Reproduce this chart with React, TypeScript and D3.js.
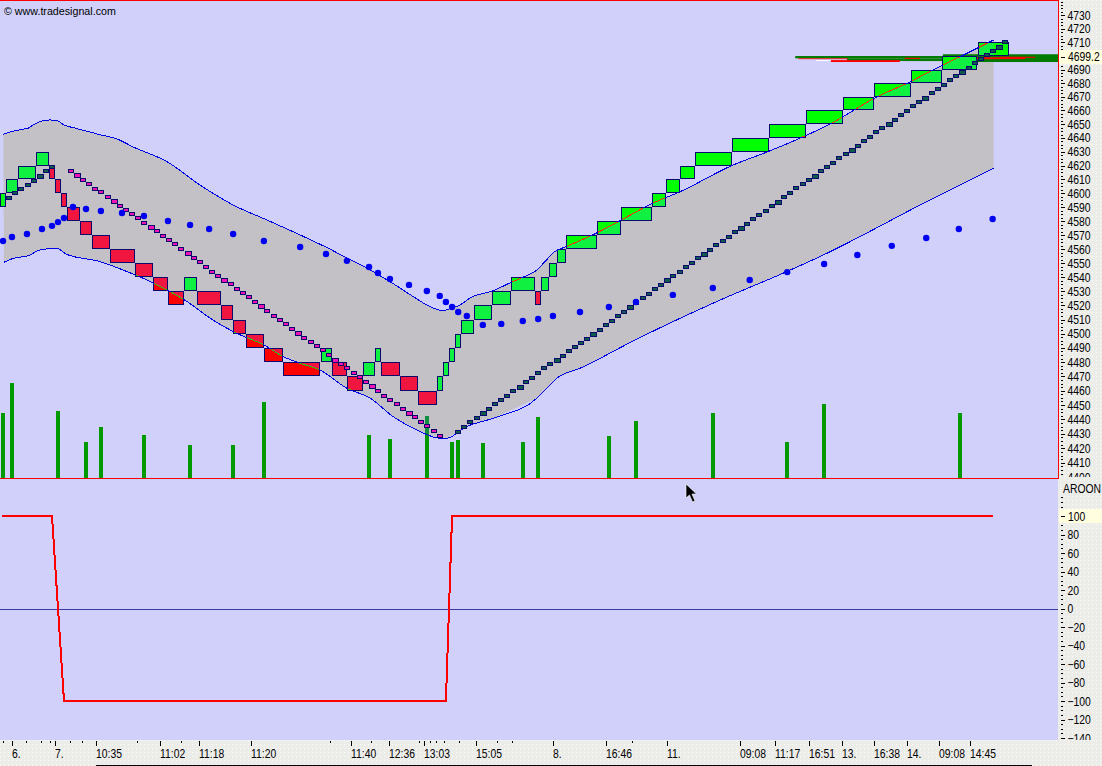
import { useRef, useEffect } from "react";
import * as d3 from "d3";

const boxEnd = [0.52, 2.47, 5.4, 7.51, 8.49, 9.46, 10.44, 12.55, 14.5, 17.43, 21.5, 24.42, 26.86, 29.46, 31.58, 35.48, 37.43, 39.54, 42.47, 45.56, 51.63, 53.53, 55.97, 58.57, 60.52, 61.5, 64.59, 67.51, 70.6, 71.58, 72.55, 73.53, 74.5, 76.62, 79.54, 82.63, 86.54, 87.51, 88.81, 90.11, 91.58, 96.62, 100.52, 105.56, 107.84, 110.11, 112.55, 118.57, 124.59, 130.6, 136.62, 141.66, 147.67, 152.71, 158.5, 163.61];
const boxLow = [4590, 4600, 4610, 4620, 4610, 4600, 4590, 4580, 4570, 4560, 4550, 4540, 4530, 4520, 4530, 4520, 4510, 4500, 4490, 4480, 4470, 4480, 4470, 4460, 4470, 4480, 4470, 4460, 4450, 4460, 4470, 4480, 4490, 4500, 4510, 4520, 4530, 4520, 4530, 4540, 4550, 4560, 4570, 4580, 4590, 4600, 4610, 4620, 4630, 4640, 4650, 4660, 4670, 4680, 4690, 4700];
const boxUp = [1, 1, 1, 1, 0, 0, 0, 0, 0, 0, 0, 0, 0, 0, 1, 0, 0, 0, 0, 0, 0, 1, 0, 0, 1, 1, 0, 0, 0, 1, 1, 1, 1, 1, 1, 1, 1, 0, 1, 1, 1, 1, 1, 1, 1, 1, 1, 1, 1, 1, 1, 1, 1, 1, 1, 1];

const upperBar = [0.13, 1.2, 2.85, 4.2, 4.96, 6.37, 7.72, 9.02, 10, 11.79, 15.85, 18.6, 21.2, 26.75, 32.1, 37.5, 43, 48.4, 53.5, 56, 59.2, 63, 66.8, 69.5, 71.6, 73, 74.4, 76, 79.8, 82.5, 85.2, 86.9, 88.2, 89.8, 91.7, 96.6, 100.4, 105.8, 110.2, 118.8, 124.3, 130.2, 134.6, 142.2, 147.6, 151.3, 155.7, 161.15];
const upperPrice = [4642.7, 4644.3, 4646, 4647.2, 4649.5, 4652.3, 4653.1, 4652.3, 4649.5, 4647.2, 4642.4, 4639.3, 4633.6, 4622.8, 4606, 4591.6, 4580.8, 4570.1, 4559.4, 4553.6, 4546.5, 4536.8, 4526.2, 4519.1, 4516.3, 4518.1, 4520.3, 4525.2, 4530.4, 4535.9, 4541.1, 4545.1, 4551.1, 4558.2, 4561.8, 4571.5, 4580.3, 4593, 4601.2, 4620.4, 4629.8, 4640.9, 4650.2, 4670, 4681, 4689.7, 4699.4, 4711.7];
const lowerBar = [0.24, 1.76, 4.2, 6.1, 8.8, 10.4, 15.85, 19.6, 24.5, 30, 34.2, 37.5, 43, 45.1, 48.4, 51.6, 56, 59.8, 63.5, 67.9, 71.1, 72.2, 75.5, 79.8, 86.9, 88.5, 90.1, 93.9, 103.1, 116.7, 127.5, 132.9, 150.8, 161.15];
const lowerPrice = [4550.6, 4553.4, 4555.3, 4559.4, 4560.6, 4556.3, 4551.1, 4545.1, 4535.9, 4522.7, 4509.7, 4501.5, 4490.9, 4485.1, 4479.2, 4474.6, 4461.7, 4454.8, 4442, 4431.6, 4427, 4427, 4435.1, 4440.9, 4454.8, 4461.7, 4468.7, 4475.7, 4496.1, 4523.8, 4543.9, 4554.6, 4595.2, 4618];

// small squares, one per bar
const darkStart1 = 1;
const darkValues1 = [4596.6, 4600, 4603.1, 4606, 4609.1, 4612.5, 4615.9, 4619];
const pinkStart = 11;
const pinkValues = [4616.1, 4613, 4609.7, 4606.6, 4603.3, 4600.6, 4597.3, 4594.2, 4591.1, 4588.3, 4585.2, 4581.9, 4579, 4575.9, 4572.6, 4569.7, 4566.6, 4563.3, 4560.2, 4556.9, 4553.8, 4550.5, 4547.4, 4544, 4541, 4537.9, 4535, 4531.9, 4528.8, 4525.7, 4522.4, 4519.3, 4516, 4512.7, 4509.6, 4506.5, 4503.4, 4500.3, 4497, 4494.2, 4491.2, 4488.2, 4484.9, 4481.7, 4478.9, 4475.9, 4472.6, 4469.6, 4466.3, 4463.3, 4459.8, 4456.5, 4453.7, 4450.7, 4447.5, 4444.7, 4441.4, 4438.4, 4435.3, 4431.9, 4428.6];
const darkStart2 = 74;
const darkValues2 = [4431.6, 4434.9, 4438.1, 4441.1, 4444.2, 4447.2, 4450.5, 4453.3, 4456.3, 4459.6, 4462.6, 4465.8, 4468.9, 4472.4, 4475.6, 4478.4, 4481.2, 4484.2, 4487.5, 4490.3, 4493.3, 4496.6, 4499.7, 4502.8, 4506.1, 4509.2, 4512.5, 4515.6, 4518.5, 4522, 4525.1, 4528.2, 4531.5, 4534.4, 4537.7, 4540.8, 4543.9, 4547.2, 4550.3, 4553.6, 4556.5, 4559.6, 4562.9, 4565.7, 4568.8, 4572.1, 4575, 4578.1, 4581.2, 4584.2, 4587.3, 4590.7, 4594, 4597.1, 4600.2, 4603.5, 4606.6, 4609.7, 4612.5, 4615.8, 4619.2, 4622.1, 4625.5, 4628.7, 4631.6, 4634.5, 4637.5, 4640.6, 4644, 4647.2, 4650.1, 4653.3, 4656.4, 4659.6, 4663, 4665.9, 4669.1, 4672.5, 4675.6, 4678.8, 4682, 4685.4, 4688.5, 4691.4, 4694.6, 4698, 4700.9, 4703.8, 4706.8, 4710.2];

const dotBar = [0.08, 1.54, 3.98, 6.42, 8.05, 9.02, 10, 11.46, 13.58, 16, 19.43, 23, 26.9, 30.5, 33.6, 37.5, 42.5, 48.4, 52.6, 56, 59.6, 61.05, 63, 66.1, 69, 71.1, 72.1, 73.1, 74.1, 75.5, 78.1, 81.1, 84.6, 87.1, 89.5, 93.9, 98.6, 103, 109, 115.5, 121.5, 127.6, 133.6, 139, 144.6, 150.2, 155.5, 161];
const dotPrice = [4565.8, 4568.6, 4570.8, 4574.4, 4576.6, 4579.3, 4582.2, 4590.1, 4588.7, 4587.3, 4585.8, 4583.7, 4580.1, 4577.3, 4574.4, 4570.8, 4565.8, 4561.5, 4556.5, 4551.6, 4547.2, 4543, 4538.7, 4534.5, 4530.2, 4526.7, 4522.4, 4518.8, 4515.3, 4512.5, 4506.2, 4506.9, 4509, 4510.4, 4512.5, 4515.3, 4518.8, 4522.4, 4527.4, 4532.3, 4538, 4543.6, 4549.4, 4555.8, 4562.3, 4567.9, 4574.4, 4581.5];

const volumeBar = [0.08, 1.54, 9.02, 13.58, 16, 23, 30.5, 37.5, 42.5, 59.6, 63, 69, 73.1, 74.1, 78.1, 84.6, 87.1, 98.6, 103, 115.5, 127.6, 133.6, 155.7];
const volumeValue = [65, 95, 67, 36, 51, 43, 33, 33, 76, 43, 39, 62, 36, 38, 35, 36, 61, 42, 57, 65, 36, 74, 65];

const aroonBar = [-0.1, 8.05, 10, 72.1, 73.1, 161];
const aroonValue = [100, 100, -100, -100, 100, 100];

// horizontal level bars around the last price: [start bar, end bar, high, low]
const greenLevels = [
  [128.9, 172, 4699.9, 4698.2],
  [137.3, 172, 4698.2, 4696.2],
  [152.9, 172, 4701.2, 4695.5],
];
const redLevels = [
  [129.4, 137.5, 4698.2, 4697.6],
  [134.7, 145.9, 4696.9, 4695.5],
  [146.7, 149.2, 4698.6, 4697.8],
  [158.2, 166.3, 4699, 4697.6],
  [162.2, 167.9, 4699.4, 4698.6],
];
const whiteLevels = [[132.3, 134.7, 4696.9, 4696.2]];

const lastPrice = 4699.2;

const priceTicks = d3.range(4400, 4740, 10).filter((d) => d !== 4700);
const aroonTicks = d3.range(-140, 101, 20);

const timeLabels = ["6.", "7.", "10:35", "11:02", "11:18", "11:20", "11:40", "12:36", "13:03", "15:05", "8.", "16:46", "11.", "09:08", "11:17", "16:51", "13.", "16:38", "14.", "09:08", "14:45"];
const timeBars = [1.54, 8.59, 15.25, 25.6, 31.95, 40.4, 56.67, 62.85, 68.6, 77.04, 89.5, 98.1, 108, 119.87, 125.56, 131.2, 136.5, 141.7, 147, 152.2, 157.3];
const minorTimeBars = [0.13, 3.82, 6.2, 7.72, 10.98, 12.93, 21.87, 29.07, 53.25, 59.97, 67.67, 69.5, 70.44, 71.8, 74.28, 80.46, 82.85, 102.36];

const FONT = "'Liberation Sans', Arial, sans-serif";
const LABEL_SIZE = 12.5;
const SQUEEZE = 0.83; // the labels in the screenshot are a tall, narrow bitmap font
const BG = "#d0d0fa";
const AXIS_BG = "#ecece9";
const BAND = "#c3c1c6";
const NAVY = "#0a0a6e";
const BLUE = "#0000e6";

export default function App() {
  const svgRef = useRef<SVGSVGElement>(null);

  useEffect(() => {
    if (!svgRef.current) return;
    const svg = d3.select(svgRef.current);
    svg.selectAll("*").remove();

    const width = 1102;
    const height = 766;
    const plotRight = 1058;
    const upperBottom = 478;
    const lowerBottom = 740;

    // Scales
    const x = d3.scaleLinear().domain([0, 172]).range([2.5, 1060.3]);
    const y = d3.scaleLog().domain([4741.3, 4399.5]).range([0, upperBottom]);
    const yAroon = d3.scaleLinear().domain([100, -100]).range([516, 701]);
    const yVol = d3.scaleLinear().domain([0, 100]).range([upperBottom, upperBottom - 100]);

    const defs = svg.append("defs");
    const dots = defs
      .append("pattern")
      .attr("id", "axisDots")
      .attr("width", 4)
      .attr("height", 4)
      .attr("patternUnits", "userSpaceOnUse");
    dots.append("rect").attr("width", 4).attr("height", 4).attr("fill", AXIS_BG);
    dots.append("rect").attr("width", 1).attr("height", 1).attr("fill", "#fbfbfb");

    // backgrounds
    svg.append("rect").attr("width", width).attr("height", height).attr("fill", "url(#axisDots)");
    svg.append("rect").attr("width", plotRight).attr("height", lowerBottom).attr("fill", BG);

    // band
    const upperPts: [number, number][] = upperBar.map((b, i) => [x(b), y(upperPrice[i])]);
    const lowerPts: [number, number][] = lowerBar.map((b, i) => [x(b), y(lowerPrice[i])]);
    const curve = d3.line().curve(d3.curveMonotoneX);
    const bandD =
      curve(upperPts)! +
      "L" +
      lowerPts
        .slice()
        .reverse()
        .map((p) => p.join(","))
        .join("L") +
      "Z";
    svg.append("path").attr("d", bandD).attr("fill", BAND);
    defs.append("clipPath").attr("id", "bandClip").append("path").attr("d", bandD);

    // volume bars
    const volRect = (g: any, fill: string) =>
      g
        .selectAll("rect")
        .data(volumeBar)
        .enter()
        .append("rect")
        .attr("x", (d: number) => Math.round(x(d)) - 2)
        .attr("width", 4)
        .attr("y", (_: number, i: number) => yVol(volumeValue[i]))
        .attr("height", (_: number, i: number) => upperBottom - yVol(volumeValue[i]))
        .attr("fill", fill);
    volRect(svg.append("g"), "#009900");
    volRect(svg.append("g").attr("clip-path", "url(#bandClip)"), "#0f8f3f");

    // level bars next to the last price
    const levels = (rows: number[][], fill: string) =>
      svg
        .append("g")
        .selectAll("rect")
        .data(rows)
        .enter()
        .append("rect")
        .attr("x", (d) => x(d[0]))
        .attr("width", (d) => Math.min(x(d[1]), plotRight) - x(d[0]))
        .attr("y", (d) => y(d[2]))
        .attr("height", (d) => y(d[3]) - y(d[2]))
        .attr("fill", fill);
    levels(greenLevels, "#007a00");
    levels(whiteLevels, "#ffffff");
    levels(redLevels, "#ff0000");

    // renko boxes
    const boxes = boxEnd.map((end, i) => {
      const x0 = i === 0 ? 0 : Math.round(x(boxEnd[i - 1] + 0.1));
      const x1 = Math.round(x(end));
      const y0 = Math.round(y(boxLow[i] + 10));
      const y1 = Math.round(y(boxLow[i]));
      return { x0, x1, y0, y1, up: boxUp[i] === 1 };
    });
    const boxFill = (g: any, up: string, down: string, stroke: string) =>
      g
        .selectAll("rect")
        .data(boxes)
        .enter()
        .append("rect")
        .attr("x", (d: any) => d.x0 + 0.5)
        .attr("y", (d: any) => d.y0 + 0.5)
        .attr("width", (d: any) => d.x1 - d.x0 - 1)
        .attr("height", (d: any) => d.y1 - d.y0 - 1)
        .attr("fill", (d: any) => (d.up ? up : down))
        .attr("stroke", stroke)
        .attr("shape-rendering", "crispEdges");
    boxFill(svg.append("g"), "#00ff00", "#ff0000", NAVY);
    boxFill(svg.append("g").attr("clip-path", "url(#bandClip)"), "#10f040", "#f0163f", NAVY);

    const clipFor = (id: string, up: boolean) =>
      defs
        .append("clipPath")
        .attr("id", id)
        .selectAll("rect")
        .data(boxes.filter((b) => b.up === up))
        .enter()
        .append("rect")
        .attr("x", (d) => d.x0 + 1)
        .attr("y", (d) => d.y0 + 1)
        .attr("width", (d) => d.x1 - d.x0 - 2)
        .attr("height", (d) => d.y1 - d.y0 - 2);
    clipFor("upClip", true);
    clipFor("downClip", false);

    // band edges, they change colour where they cross a box
    const edge = (pts: [number, number][], stroke: string, clip?: string) => {
      const p = svg
        .append("path")
        .attr("d", curve(pts))
        .attr("fill", "none")
        .attr("stroke", stroke)
        .attr("stroke-width", 1)
        .attr("shape-rendering", "crispEdges");
      if (clip) p.attr("clip-path", `url(#${clip})`);
    };
    [upperPts, lowerPts].forEach((pts) => {
      edge(pts, BLUE);
      edge(pts, "#f03010", "upClip");
      edge(pts, "#30c010", "downClip");
    });

    // small squares
    const squares = (start: number, values: number[], fill: string) =>
      svg
        .append("g")
        .selectAll("rect")
        .data(values)
        .enter()
        .append("rect")
        .attr("x", (_, i) => Math.round(x(start + i) - 2.5) + 0.5)
        .attr("width", (_, i) => ((start + i) % 6 === 0 ? 6 : 5))
        .attr("y", (d) => Math.round(y(d) - 2) + 0.5)
        .attr("height", (_, i) => ((start + i) % 6 === 0 ? 4 : 3))
        .attr("fill", fill)
        .attr("stroke", NAVY)
        .attr("shape-rendering", "crispEdges");
    squares(darkStart1, darkValues1, "#0f5a4a");
    squares(pinkStart, pinkValues, "#f014b4");
    squares(darkStart2, darkValues2, "#0f5a4a");

    // dots
    svg
      .append("g")
      .selectAll("circle")
      .data(dotBar)
      .enter()
      .append("circle")
      .attr("cx", (d) => x(d))
      .attr("cy", (_, i) => y(dotPrice[i]))
      .attr("r", 3.2)
      .attr("fill", "#0000f0");

    // panel frame
    const redLine = (x1: number, y1: number, x2: number, y2: number) =>
      svg.append("line").attr("x1", x1).attr("y1", y1).attr("x2", x2).attr("y2", y2).attr("stroke", "#ff0000").attr("stroke-width", 1);
    redLine(0, 0.5, plotRight + 1, 0.5);
    redLine(0, 478.5, plotRight + 1, 478.5);
    redLine(plotRight + 0.5, 0, plotRight + 0.5, 479);

    // aroon panel
    svg
      .append("line")
      .attr("x1", 0)
      .attr("x2", plotRight)
      .attr("y1", Math.round(yAroon(0)) + 0.5)
      .attr("y2", Math.round(yAroon(0)) + 0.5)
      .attr("stroke", "#3c3ca0")
      .attr("stroke-width", 1);
    svg
      .append("path")
      .attr("d", d3.line()(aroonBar.map((b, i) => [x(b), yAroon(aroonValue[i])] as [number, number])))
      .attr("fill", "none")
      .attr("stroke", "#ff0000")
      .attr("stroke-width", 2)
      .attr("shape-rendering", "crispEdges");

    // right axes
    const upperClip = defs.append("clipPath").attr("id", "upperAxisClip");
    upperClip.append("rect").attr("x", plotRight + 1).attr("y", 1).attr("width", 60).attr("height", 476);
    const lowerClip = defs.append("clipPath").attr("id", "lowerAxisClip");
    lowerClip.append("rect").attr("x", plotRight).attr("y", 479).attr("width", 60).attr("height", lowerBottom - 479);

    const styleAxis = (g: any) => {
      g.select(".domain").remove();
      g.selectAll(".tick line").attr("stroke", "#000").attr("x1", 3).attr("x2", 7).attr("shape-rendering", "crispEdges");
      g.selectAll(".tick text")
        .attr("x", 9.5 / SQUEEZE)
        .attr("transform", `scale(${SQUEEZE},1)`)
        .attr("fill", "#000")
        .attr("font-family", FONT)
        .attr("font-size", LABEL_SIZE);
    };
    const minor = (g: any, values: number[], scale: (v: number) => number) =>
      g
        .selectAll("rect.minor")
        .data(values)
        .enter()
        .append("rect")
        .attr("class", "minor")
        .attr("x", plotRight + 3)
        .attr("width", 2)
        .attr("y", (d: number) => Math.round(scale(d)))
        .attr("height", 1)
        .attr("fill", "#000");

    const upperAxis = svg
      .append("g")
      .attr("clip-path", "url(#upperAxisClip)")
      .append("g")
      .attr("transform", `translate(${plotRight},0)`)
      .call(d3.axisRight(y).tickValues(priceTicks).tickFormat(d3.format("d") as any).tickSize(6));
    styleAxis(upperAxis);
    const upperMinor = svg.append("g").attr("clip-path", "url(#upperAxisClip)");
    minor(upperMinor, d3.range(4400, 4742, 2.5), (v) => y(v));

    const lowerAxis = svg
      .append("g")
      .attr("clip-path", "url(#lowerAxisClip)")
      .append("g")
      .attr("transform", `translate(${plotRight},0)`)
      .call(d3.axisRight(yAroon).tickValues(aroonTicks).tickSize(6));
    styleAxis(lowerAxis);
    const lowerMinor = svg.append("g").attr("clip-path", "url(#lowerAxisClip)");
    minor(lowerMinor, d3.range(-140, 121, 5), (v) => yAroon(v));

    // squeezed label anchored at a plain x, y
    const label = (px: number, py: number, text: string, dy = "0") =>
      svg
        .append("text")
        .attr("transform", `translate(${px},${py}) scale(${SQUEEZE},1)`)
        .attr("dy", dy)
        .attr("fill", "#000")
        .attr("font-family", FONT)
        .attr("font-size", LABEL_SIZE)
        .text(text);

    // highlighted values on the axes
    const flag = (cy: number, text: string) => {
      svg.append("rect").attr("x", plotRight + 1).attr("y", cy - 7).attr("width", width - plotRight - 1).attr("height", 14).attr("fill", "#ffffe0");
      svg.append("rect").attr("x", plotRight + 3).attr("y", Math.round(cy)).attr("width", 4).attr("height", 1).attr("fill", "#000");
      label(plotRight + 10, cy, text, "0.36em");
    };
    flag(y(lastPrice), String(lastPrice));
    flag(yAroon(100), "100");

    svg
      .append("rect")
      .attr("x", plotRight + 1)
      .attr("y", 479)
      .attr("width", width - plotRight - 1)
      .attr("height", 16)
      .attr("fill", "url(#axisDots)");
    label(1063, 493, "AROON");

    // time axis
    svg.append("rect").attr("x", 0).attr("y", lowerBottom).attr("width", width).attr("height", height - lowerBottom).attr("fill", "url(#axisDots)");
    const timeAxis = svg.append("g");
    timeAxis
      .selectAll("rect.major")
      .data(timeBars)
      .enter()
      .append("rect")
      .attr("x", (d) => Math.round(x(d)))
      .attr("y", lowerBottom + 1)
      .attr("width", 1)
      .attr("height", 5)
      .attr("fill", "#000");
    timeAxis
      .selectAll("rect.minor")
      .data(minorTimeBars)
      .enter()
      .append("rect")
      .attr("x", (d) => Math.round(x(d)))
      .attr("y", lowerBottom + 1)
      .attr("width", 1)
      .attr("height", 2)
      .attr("fill", "#000");
    timeLabels.forEach((t, i) => label(Math.round(x(timeBars[i])), 758, t));
    svg.append("rect").attr("x", 96).attr("y", 765).attr("width", 936).attr("height", 1).attr("fill", "#000");

    // copyright note
    svg
      .append("text")
      .attr("x", 4)
      .attr("y", 15)
      .attr("font-family", FONT)
      .attr("font-size", 10.7)
      .attr("fill", "#000")
      .text("© www.tradesignal.com");

    // mouse pointer left in the screenshot
    svg
      .append("path")
      .attr("d", "M686,484 L686,498 L689.5,495 L692.5,502 L695,501 L692,494 L696.5,494 Z")
      .attr("fill", "#000")
      .attr("stroke", "#fff")
      .attr("stroke-width", 0.6);
  }, []);

  return (
    <svg
      ref={svgRef}
      width={1102}
      height={766}
      viewBox="0 0 1102 766"
      style={{ position: "absolute", left: 0, top: 0, display: "block" }}
    />
  );
}
